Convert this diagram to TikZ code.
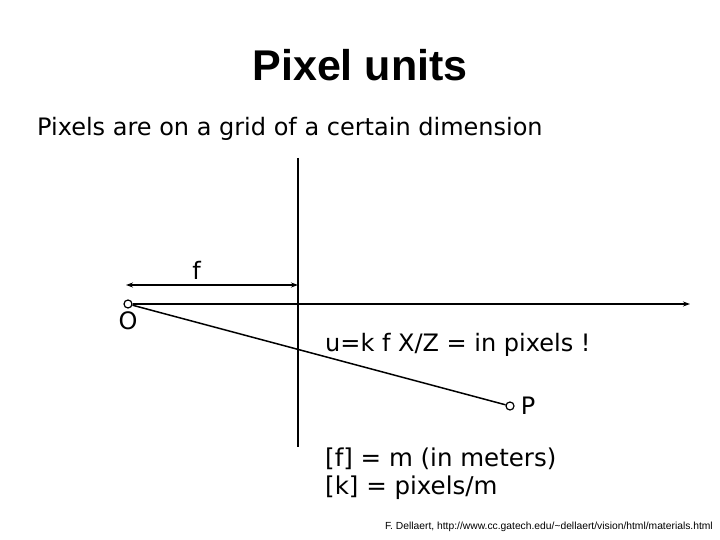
\documentclass[tikz,border=0pt]{standalone}
\usepackage{fontspec}
\setmainfont{DejaVu Sans}
\newfontfamily\titlefont{Liberation Sans}
\usetikzlibrary{arrows.meta, positioning}

\begin{document}
\begin{tikzpicture}[
    x=1pt, y=-1pt,
    >={Stealth[length=7pt, width=5pt]},
    axis/.style={line width=1.5pt},
    pt/.style={draw, circle, line width=1.2pt, minimum size=8pt, inner sep=0pt},
    txt/.style={font=\fontsize{24}{28}\selectfont, inner sep=0pt, anchor=base west}
  ]
  \useasboundingbox (0,0) rectangle (720,540);

  % title and caption
  \node[font=\titlefont\bfseries\fontsize{43}{48}\selectfont] (title) at (360,65) {Pixel units};
  \node[txt] (intro) at (37,136) {Pixels are on a grid of a certain dimension};

  % image plane and optical axis
  \coordinate (top) at (298,158);
  \coordinate (bot) at (298,447);
  \coordinate (axend) at (690,304);
  \draw[axis] (top) -- (bot);

  \node[pt] (O) at (128,304) {};
  \node[pt] (P) at (510,406) {};
  \node[txt, anchor=center] (Olbl) at (128,321) {O};
  \node[txt, right=6pt of P, anchor=west] (Plbl) {P};

  \draw[axis, ->] (O) -- (axend);
  \draw[axis] (O) -- (P);

  % focal length
  \coordinate (fl) at (126,285);
  \coordinate (fr) at (298,285);
  \draw[axis, <->] (fl) -- node[pos=0.41, above=5pt, font=\fontsize{24}{28}\selectfont, inner sep=0pt] {f} (fr);

  \node[txt] (proj) at (325,351) {u=k f X/Z = in pixels !};
  \node[txt, font=\fontsize{24.5}{28}\selectfont] (unitf) at (325,466) {[f] = m (in meters)};
  \node[txt, font=\fontsize{24.5}{28}\selectfont] (unitk) at (325,494) {[k] = pixels/m};

  \node[font=\titlefont\fontsize{10.3}{12}\selectfont, anchor=base east, inner sep=0pt] (cite) at (713,529)
    {F. Dellaert, http://www.cc.gatech.edu/\textasciitilde dellaert/vision/html/materials.html};
\end{tikzpicture}
\end{document}
